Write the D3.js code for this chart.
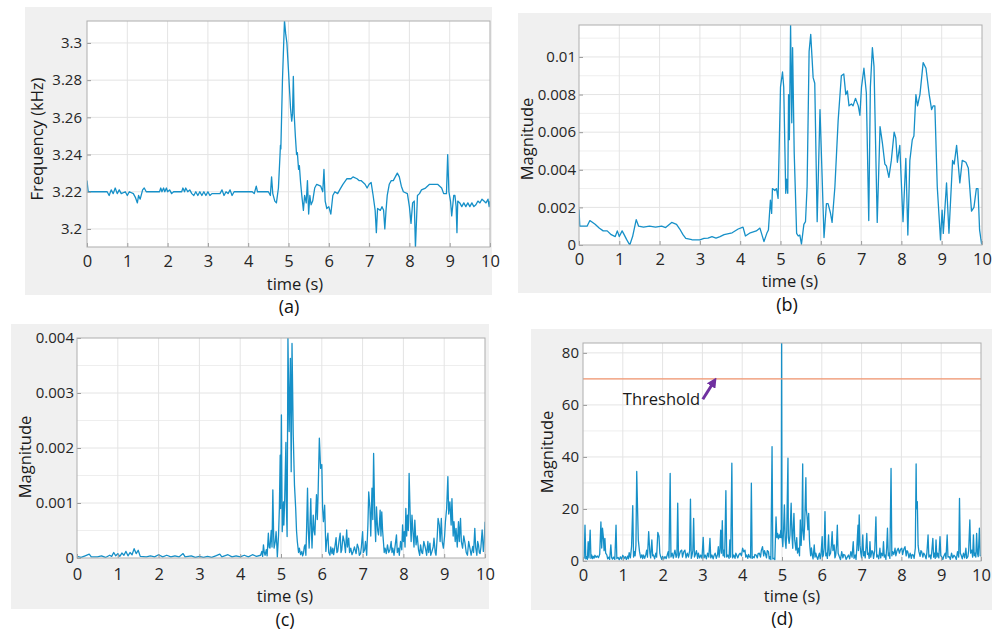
<!DOCTYPE html>
<html>
<head>
<meta charset="utf-8">
<script src="https://cdn.jsdelivr.net/npm/d3@7"></script>
<style>
  body { margin: 0; background: #fff; }
  svg { display: block; font-family: "Open Sans", sans-serif; }
</style>
</head>
<body>
<script>
// tick values
const timeTicks = [0, 1, 2, 3, 4, 5, 6, 7, 8, 9, 10];
const freqTicks = [3.2, 3.22, 3.24, 3.26, 3.28, 3.3];
const magTicksB = [0, 0.002, 0.004, 0.006, 0.008, 0.01];
const magMinorB = [0.001, 0.003, 0.005, 0.007, 0.009, 0.011];
const magTicksC = [0, 0.001, 0.002, 0.003, 0.004];
const magMinorC = [0.0005, 0.0015, 0.0025, 0.0035];
const magTicksD = [0, 20, 40, 60, 80];
const magMinorD = [10, 30, 50, 70];
const threshold = 70;

// (a) frequency, kHz  [time s, value]
const freqA = [
  [0,3.226],[0.03,3.22],[0.5,3.22],[0.55,3.218],[0.6,3.221],[0.65,3.219],[0.7,3.222],[0.75,3.219],
  [0.8,3.221],[0.85,3.219],[0.95,3.22],[1.0,3.218],[1.05,3.22],[1.15,3.219],[1.2,3.217],[1.25,3.214],
  [1.28,3.218],[1.32,3.216],[1.38,3.221],[1.42,3.222],[1.47,3.22],[1.8,3.22],[1.83,3.222],[1.86,3.22],
  [1.9,3.222],[1.93,3.22],[1.97,3.222],[2.0,3.22],[2.05,3.221],[2.1,3.219],[2.15,3.22],[2.35,3.22],
  [2.38,3.222],[2.42,3.22],[2.45,3.222],[2.5,3.22],[2.55,3.221],[2.6,3.219],[2.65,3.218],[2.7,3.22],
  [2.75,3.218],[2.8,3.22],[2.85,3.218],[2.9,3.22],[2.95,3.218],[3.0,3.22],[3.05,3.218],[3.1,3.219],
  [3.3,3.219],[3.35,3.221],[3.4,3.218],[3.45,3.22],[3.5,3.219],[3.55,3.221],[3.6,3.218],[3.65,3.22],
  [4.1,3.22],[4.15,3.219],[4.2,3.223],[4.23,3.22],[4.5,3.22],[4.55,3.218],[4.58,3.228],[4.61,3.219],
  [4.66,3.215],[4.7,3.214],[4.75,3.222],[4.79,3.24],[4.8,3.245],[4.81,3.243],[4.85,3.28],[4.9,3.312],
  [4.93,3.305],[4.96,3.3],[5.0,3.285],[5.05,3.265],[5.08,3.258],[5.1,3.262],[5.12,3.282],[5.14,3.262],
  [5.17,3.25],[5.2,3.24],[5.22,3.241],[5.25,3.232],[5.27,3.234],[5.3,3.225],[5.33,3.218],[5.37,3.21],
  [5.4,3.218],[5.44,3.214],[5.47,3.226],[5.5,3.208],[5.53,3.218],[5.56,3.213],[5.6,3.215],[5.65,3.222],
  [5.7,3.224],[5.8,3.223],[5.85,3.22],[5.88,3.232],[5.91,3.215],[5.95,3.211],[6.0,3.212],[6.05,3.208],
  [6.1,3.218],[6.15,3.22],[6.22,3.219],[6.27,3.221],[6.35,3.224],[6.45,3.227],[6.55,3.227],[6.6,3.228],
  [6.7,3.227],[6.75,3.226],[6.8,3.226],[6.9,3.224],[6.95,3.222],[7.0,3.224],[7.05,3.225],[7.1,3.218],
  [7.15,3.21],[7.18,3.198],[7.21,3.211],[7.28,3.21],[7.32,3.212],[7.36,3.21],[7.39,3.2],[7.42,3.21],
  [7.45,3.218],[7.5,3.224],[7.55,3.226],[7.6,3.226],[7.65,3.228],[7.7,3.23],[7.75,3.228],[7.8,3.223],
  [7.85,3.22],[7.95,3.219],[8.0,3.212],[8.04,3.203],[8.08,3.214],[8.12,3.215],[8.15,3.19],[8.2,3.218],
  [8.25,3.219],[8.3,3.221],[8.4,3.222],[8.5,3.224],[8.6,3.224],[8.7,3.224],[8.8,3.222],[8.85,3.219],
  [8.92,3.219],[8.95,3.24],[8.98,3.22],[9.02,3.215],[9.05,3.207],[9.1,3.218],[9.13,3.218],[9.16,3.212],
  [9.18,3.198],[9.2,3.215],[9.25,3.214],[9.3,3.212],[9.35,3.214],[9.4,3.212],[9.45,3.214],[9.5,3.212],
  [9.55,3.214],[9.6,3.212],[9.65,3.213],[9.7,3.215],[9.75,3.214],[9.8,3.216],[9.85,3.215],[9.9,3.214],
  [9.95,3.216],[9.98,3.212],[10,3.215]
];

// (b) magnitude
const magB = [
  [0,0.0019],[0.02,0.001],[0.2,0.001],[0.27,0.0013],[0.4,0.0011],[0.5,0.0009],[0.6,0.00075],[0.7,0.00075],
  [0.8,0.00055],[0.9,0.00045],[0.95,0.00075],[1.0,0.00045],[1.07,0.00075],[1.12,0.00055],[1.18,0.0003],
  [1.26,0],[1.33,0.00045],[1.42,0.00135],[1.48,0.001],[1.6,0.00095],[1.75,0.001],[1.9,0.00095],[2.05,0.001],
  [2.15,0.00093],[2.3,0.0012],[2.42,0.0011],[2.5,0.00085],[2.58,0.00055],[2.65,0.00035],[2.8,0.00028],
  [3.0,0.00027],[3.1,0.00035],[3.2,0.00037],[3.3,0.00045],[3.4,0.00037],[3.5,0.00045],[3.6,0.00055],
  [3.8,0.00065],[3.95,0.00085],[4.07,0.00095],[4.13,0.00048],[4.25,0.00065],[4.4,0.00075],[4.49,0.0009],
  [4.59,0.00018],[4.66,0.00062],[4.7,0.0008],[4.75,0.00239],[4.78,0.00168],[4.8,0.003],[4.86,0.0029],
  [4.9,0.003],[4.94,0.00248],[5.0,0.0084],[5.05,0.0092],[5.08,0.0084],[5.13,0.00275],[5.15,0.0035],
  [5.18,0.00275],[5.2,0.008],[5.22,0.0056],[5.25,0.0117],[5.28,0.0065],[5.3,0.0105],[5.34,0.0049],
  [5.4,0.00062],[5.44,0.00048],[5.48,0.00053],[5.52,0.00005],[5.58,0.0011],[5.62,0.00124],[5.66,0.0031],
  [5.71,0.0103],[5.75,0.0112],[5.81,0.0089],[5.85,0.0086],[5.91,0.00124],[5.98,0.0072],[6.02,0.0045],
  [6.08,0.0004],[6.14,0.0022],[6.18,0.0022],[6.24,0.0017],[6.28,0.0012],[6.35,0.0031],[6.43,0.0066],
  [6.51,0.009],[6.57,0.0091],[6.62,0.008],[6.66,0.0082],[6.7,0.0074],[6.76,0.0075],[6.8,0.0074],
  [6.86,0.0078],[6.93,0.0074],[6.97,0.0069],[7.01,0.0084],[7.07,0.0094],[7.13,0.0081],[7.19,0.0013],
  [7.23,0.0084],[7.28,0.0105],[7.32,0.0095],[7.4,0.0012],[7.47,0.0063],[7.53,0.0054],[7.59,0.0043],
  [7.63,0.0042],[7.69,0.0036],[7.75,0.0045],[7.82,0.006],[7.86,0.0057],[7.9,0.0044],[7.96,0.0053],
  [8.04,0.00124],[8.11,0.0046],[8.16,0.00053],[8.21,0.0045],[8.27,0.0056],[8.31,0.0058],[8.36,0.008],
  [8.4,0.0074],[8.46,0.008],[8.54,0.0097],[8.61,0.0094],[8.69,0.008],[8.75,0.0072],[8.79,0.0074],
  [8.83,0.0074],[8.89,0.0031],[8.97,0.00027],[9.01,0.00186],[9.04,0.00062],[9.12,0.0033],[9.18,0.00062],
  [9.27,0.0045],[9.31,0.0043],[9.37,0.0053],[9.45,0.0033],[9.51,0.0045],[9.6,0.0044],[9.66,0.0041],
  [9.74,0.0018],[9.8,0.002],[9.86,0.003],[9.9,0.003],[9.94,0.0008],[9.99,0.00005],[10,0.0003]
];

// (c) magnitude
const magC = [
  [0,0.00003],[0.1,0.00001],[0.2,0.00004],[0.3,0.00007],[0.35,0.00002],[0.5,0.00002],[0.6,0.00004],
  [0.7,0.00001],[0.8,0.00005],[0.85,0.00003],[0.9,0.0001],[0.95,0.00004],[1.0,0.00008],[1.05,0.00003],
  [1.1,0.00009],[1.15,0.00005],[1.2,0.00012],[1.25,0.00004],[1.3,0.0001],[1.35,0.00006],[1.4,0.00017],
  [1.45,0.00008],[1.5,0.00014],[1.55,0.00003],[1.7,0.00002],[1.8,0.00004],[1.9,0.00002],[2.0,0.00006],
  [2.1,0.00002],[2.2,0.00005],[2.3,0.00002],[2.4,0.00004],[2.5,0.00002],[2.6,0.00008],[2.65,0.00002],
  [2.8,0.00004],[2.9,0.00001],[3.0,0.00003],[3.1,0.00001],[3.2,0.00003],[3.3,0.00001],[3.4,0.00004],
  [3.5,0.00007],[3.55,0.00002],[3.7,0.00006],[3.8,0.00002],[3.9,0.00004],[4.0,0.00002],[4.1,0.00005],
  [4.2,0.00002],[4.3,0.00006],[4.4,0.00003],[4.5,0.00005],[4.53,0.00012],[4.55,0.00003],[4.57,0.00024],
  [4.59,0.0001],[4.61,0.00005],[4.64,0.00015],[4.66,0.00004],[4.69,0.00045],[4.71,0.0002],[4.73,0.00018],
  [4.76,0.0005],[4.78,0.0002],[4.8,0.00124],[4.82,0.0004],[4.83,0.00018],[4.86,0.0003],[4.88,0.00048],
  [4.9,0.0002],[4.91,0.00002],[4.94,0.00042],[4.96,0.0009],[4.98,0.00187],[4.99,0.0009],[5.01,0.0026],
  [5.03,0.00048],[5.05,0.0008],[5.06,0.00102],[5.07,0.0006],[5.09,0.00105],[5.12,0.0021],[5.13,0.001],
  [5.15,0.00039],[5.17,0.004],[5.2,0.0023],[5.23,0.00363],[5.25,0.00157],[5.27,0.0039],[5.3,0.00224],
  [5.33,0.00133],[5.36,0.0009],[5.38,0.0005],[5.4,0.0003],[5.43,0.0001],[5.45,0.00018],[5.48,0.00006],
  [5.51,0.00012],[5.53,0.00004],[5.55,0.00008],[5.57,0.0002],[5.59,0.00024],[5.61,0.00005],[5.63,0.0006],
  [5.65,0.00127],[5.67,0.0005],[5.69,0.00018],[5.71,0.0006],[5.73,0.00108],[5.75,0.0004],[5.76,0.00018],
  [5.79,0.00078],[5.81,0.0005],[5.83,0.00042],[5.85,0.0008],[5.87,0.00115],[5.89,0.0007],[5.91,0.00118],
  [5.94,0.00218],[5.97,0.00163],[6.0,0.0017],[6.02,0.0009],[6.04,0.00066],[6.07,0.00096],[6.1,0.00012],
  [6.12,0.0003],[6.15,0.00045],[6.17,0.0001],[6.2,0.00005],[6.22,0.0002],[6.25,0.00008],[6.27,0.00018],
  [6.29,0.00006],[6.32,0.0002],[6.35,0.00037],[6.37,0.0001],[6.39,0.00012],[6.42,0.0003],[6.45,0.00045],
  [6.47,0.0001],[6.49,0.00015],[6.52,0.0004],[6.55,0.0003],[6.58,0.0001],[6.61,0.00051],[6.63,0.0002],
  [6.66,0.00036],[6.68,0.0001],[6.71,0.00018],[6.74,0.00006],[6.77,0.00012],[6.8,0.0002],[6.84,0.00008],
  [6.87,0.00025],[6.9,0.00018],[6.92,0.00005],[6.95,0.00008],[6.97,0.0002],[7.0,0.00048],[7.02,0.0001],
  [7.05,0.00015],[7.07,0.0003],[7.1,0.00005],[7.13,0.0006],[7.15,0.0012],[7.18,0.0009],[7.2,0.0004],
  [7.23,0.00127],[7.25,0.0007],[7.27,0.0019],[7.3,0.00066],[7.32,0.0003],[7.34,0.00093],[7.37,0.0005],
  [7.39,0.00042],[7.41,0.0006],[7.43,0.00087],[7.45,0.0004],[7.47,0.00084],[7.49,0.0005],[7.51,0.0003],
  [7.53,0.0001],[7.55,0.00018],[7.58,0.00008],[7.61,0.00024],[7.64,0.0001],[7.67,0.00015],[7.7,0.0003],
  [7.72,0.0001],[7.74,0.00018],[7.77,0.00005],[7.8,0.00024],[7.83,0.00042],[7.85,0.0001],[7.88,0.00018],
  [7.9,0.00005],[7.93,0.0003],[7.96,0.00015],[7.98,0.0006],[8.0,0.0003],[8.02,0.00048],[8.04,0.0002],
  [8.06,0.0009],[8.08,0.0004],[8.1,0.00078],[8.12,0.0005],[8.14,0.00154],[8.17,0.00066],[8.19,0.0003],
  [8.21,0.00078],[8.24,0.00042],[8.26,0.0002],[8.28,0.00069],[8.31,0.00024],[8.34,0.0004],[8.37,0.00015],
  [8.4,0.00005],[8.42,0.00024],[8.45,0.0001],[8.47,0.00008],[8.5,0.0003],[8.54,0.00018],[8.57,0.00005],
  [8.6,0.0003],[8.62,0.0001],[8.65,0.00027],[8.67,0.00005],[8.7,0.00012],[8.73,0.0002],[8.75,0.00036],
  [8.78,0.0001],[8.8,0.00005],[8.83,0.0004],[8.85,0.00072],[8.88,0.0006],[8.9,0.0003],[8.93,0.00072],
  [8.95,0.0003],[8.98,0.00018],[9.01,0.0004],[9.03,0.00066],[9.06,0.0009],[9.09,0.00148],[9.11,0.0008],
  [9.14,0.00102],[9.17,0.0006],[9.19,0.00108],[9.22,0.0004],[9.24,0.00066],[9.27,0.0003],[9.29,0.00054],
  [9.32,0.0002],[9.35,0.00066],[9.37,0.0003],[9.4,0.00072],[9.42,0.0003],[9.45,0.00018],[9.48,0.0004],
  [9.51,0.00027],[9.54,0.0001],[9.57,0.00005],[9.6,0.0003],[9.63,0.00018],[9.66,0.00005],[9.7,0.00021],
  [9.72,0.0001],[9.75,0.00054],[9.77,0.0002],[9.8,0.00005],[9.82,0.0003],[9.84,0.00024],[9.86,0.0001],
  [9.88,0.00008],[9.9,0.0002],[9.93,0.00051],[9.96,0.00012],[9.98,0.0003],[10,0.00066]
];

// (d) magnitude
const magD = [
  [0,0.5],[0.03,1.2],[0.05,13.8],[0.07,0.8],[0.09,1.7],[0.11,0.6],[0.13,7.4],[0.15,1.2],[0.18,11.9],
  [0.2,1],[0.22,2.3],[0.24,0.9],[0.26,1.8],[0.28,1.1],[0.3,2.2],[0.33,1.4],[0.36,1.9],[0.39,1.3],
  [0.42,2.6],[0.45,15],[0.47,5],[0.49,12.6],[0.51,9.4],[0.53,4],[0.55,8.7],[0.57,3],[0.6,2.3],[0.62,0.8],
  [0.65,1.5],[0.67,0.6],[0.7,6.2],[0.72,1.3],[0.74,0.7],[0.77,1.5],[0.8,0.6],[0.83,13.8],[0.85,0.9],
  [0.88,1.4],[0.91,0.5],[0.94,1.6],[0.97,0.7],[1.0,2.2],[1.03,0.9],[1.06,1.7],[1.09,0.6],[1.12,1.9],
  [1.14,0.8],[1.16,3.2],[1.19,1.2],[1.22,5.5],[1.25,21.3],[1.27,1.5],[1.29,3.6],[1.31,2],[1.33,6],
  [1.35,34.4],[1.37,20.6],[1.39,8],[1.42,3.6],[1.45,1.2],[1.48,2.4],[1.5,0.9],[1.52,2.3],[1.55,1],
  [1.58,2.6],[1.6,4.2],[1.62,1.5],[1.65,11.3],[1.68,3],[1.7,1.2],[1.73,8.1],[1.75,2],[1.77,2.3],[1.8,0.8],
  [1.83,3],[1.85,1.5],[1.88,11],[1.91,9.4],[1.93,3],[1.95,1.7],[1.98,0.6],[2.0,1.8],[2.03,0.8],[2.06,1.7],
  [2.09,0.9],[2.12,2.5],[2.14,3.6],[2.16,1.2],[2.19,33.7],[2.21,1.5],[2.24,3],[2.27,1.1],[2.29,2.8],
  [2.31,4.2],[2.34,1.4],[2.36,2.2],[2.38,22.2],[2.4,1.2],[2.42,2.3],[2.45,3.8],[2.48,4.2],[2.5,1.5],
  [2.53,3.5],[2.56,4.2],[2.59,1.2],[2.62,3],[2.65,1.5],[2.68,4],[2.7,23.8],[2.72,1],[2.74,2.3],[2.76,4],
  [2.78,16.4],[2.8,1.5],[2.82,2.3],[2.85,4],[2.88,1],[2.9,3],[2.93,1.2],[2.96,2.3],[2.99,1],[3.02,9.1],
  [3.04,1.2],[3.07,2.3],[3.1,0.8],[3.13,3],[3.16,1.5],[3.19,8.7],[3.21,1.2],[3.24,2.3],[3.27,0.8],
  [3.29,2],[3.32,3],[3.35,1],[3.38,2.5],[3.4,5.5],[3.42,1.5],[3.44,4],[3.46,11.9],[3.48,3],[3.5,15.5],
  [3.52,2],[3.54,4.2],[3.56,1.5],[3.59,27],[3.61,1.5],[3.64,2.3],[3.67,1],[3.69,8.1],[3.71,1.5],
  [3.74,37.6],[3.76,1.2],[3.79,2.3],[3.82,1],[3.84,3],[3.86,2.3],[3.89,1.2],[3.92,2.5],[3.95,3],[3.98,2],
  [4.01,4.9],[4.04,3.5],[4.07,4.2],[4.09,1.5],[4.11,2.3],[4.14,1],[4.16,2.5],[4.18,1.7],[4.21,1.2],
  [4.23,29.9],[4.25,1],[4.27,1.7],[4.3,1.2],[4.32,2.5],[4.35,2.3],[4.38,1.2],[4.4,2.8],[4.43,3],[4.46,1.5],
  [4.48,4],[4.51,5.5],[4.54,2],[4.56,4],[4.58,3],[4.61,1.2],[4.63,4],[4.66,3.6],[4.68,0.8],[4.7,1.7],
  [4.72,0.5],[4.75,44],[4.77,0.8],[4.8,1],[4.82,0.5],[4.85,17],[4.87,9],[4.89,10.6],[4.91,8.5],[4.93,10],
  [4.95,9],[4.97,11.9],[4.98,9],[4.99,84],[5.0,10],[5.02,5.5],[5.04,12],[5.06,21.6],[5.08,8],[5.1,4.9],
  [5.12,12],[5.15,39.5],[5.16,9],[5.18,6.8],[5.2,10],[5.23,22.2],[5.25,10],[5.27,4.9],[5.28,12],[5.3,18.3],
  [5.32,8],[5.35,4.2],[5.37,9],[5.39,3],[5.42,4.9],[5.44,2],[5.46,15.8],[5.48,6],[5.5,12],[5.52,37.3],
  [5.53,12],[5.55,8.1],[5.57,14],[5.6,32],[5.61,20],[5.63,17],[5.65,12],[5.67,18.3],[5.69,8],[5.7,5.5],
  [5.72,2],[5.74,5],[5.76,2.3],[5.78,0.8],[5.81,6.2],[5.83,1.5],[5.85,3],[5.87,1.7],[5.9,0.6],[5.92,2],
  [5.94,3],[5.96,0.8],[5.98,2.5],[6.01,9.4],[6.02,1.5],[6.04,2.3],[6.06,5],[6.08,19],[6.1,2],[6.12,3],
  [6.14,1],[6.17,10],[6.19,2],[6.22,3],[6.24,6],[6.26,11.3],[6.28,4],[6.31,6.2],[6.33,1.2],[6.35,2.3],
  [6.37,6],[6.39,13.8],[6.41,3],[6.44,1.7],[6.47,0.5],[6.5,3.6],[6.53,1.2],[6.55,2.5],[6.58,2.3],[6.61,0.6],
  [6.64,1.5],[6.67,2.3],[6.7,0.8],[6.73,3.6],[6.76,1.5],[6.79,7.4],[6.81,1],[6.84,2.3],[6.86,0.6],[6.88,5],
  [6.91,13.8],[6.92,4],[6.94,17.7],[6.96,6],[6.98,3],[7.0,1.2],[7.03,10],[7.05,2],[7.07,3.6],[7.09,1.2],
  [7.11,5],[7.13,10.6],[7.15,2.5],[7.17,3],[7.19,1],[7.21,7.4],[7.23,1.5],[7.26,4],[7.28,3.6],[7.3,1],
  [7.33,4],[7.36,17],[7.38,1.5],[7.4,2.3],[7.43,0.8],[7.46,4.9],[7.48,1.2],[7.5,3],[7.53,2],[7.55,7.4],
  [7.57,1.5],[7.59,2.3],[7.61,0.6],[7.63,5],[7.65,12.6],[7.67,2],[7.69,3],[7.71,1],[7.74,35.6],[7.76,2],
  [7.78,3.6],[7.81,2.5],[7.84,4.9],[7.86,2],[7.89,4],[7.92,4.9],[7.95,3],[7.98,4.5],[8.01,4.9],[8.03,2.5],
  [8.06,4.5],[8.09,5.5],[8.12,2],[8.14,4],[8.16,3.6],[8.19,1.2],[8.22,3],[8.25,1],[8.27,2.5],[8.3,2.3],
  [8.32,1],[8.35,5],[8.37,37.3],[8.38,20],[8.4,22.8],[8.42,6],[8.44,3.6],[8.47,1.8],[8.49,4],[8.51,3.6],
  [8.54,1.5],[8.56,3],[8.59,2.3],[8.62,0.8],[8.64,3],[8.67,10],[8.69,1.5],[8.72,2.3],[8.74,0.8],[8.76,3],
  [8.79,8.7],[8.81,1.5],[8.83,3],[8.85,1],[8.87,8.1],[8.89,1.5],[8.91,3],[8.94,1.2],[8.97,9.4],[8.99,2],
  [9.01,1.7],[9.04,0.6],[9.07,2],[9.1,3],[9.12,1],[9.15,10],[9.17,1.5],[9.2,1.7],[9.23,0.6],[9.26,3],
  [9.29,1.2],[9.32,2.2],[9.35,1.7],[9.38,0.6],[9.41,3.6],[9.44,1.5],[9.46,24.1],[9.48,3],[9.5,2.3],
  [9.53,0.8],[9.56,3],[9.59,1.2],[9.62,4.9],[9.64,1],[9.67,1.7],[9.69,4],[9.72,15.8],[9.74,3],[9.77,4.2],
  [9.79,1.5],[9.81,10],[9.83,2],[9.85,3],[9.87,1.5],[9.89,10.6],[9.91,3],[9.93,1.7],[9.94,5],[9.96,12.6],
  [9.98,2],[10,2.3]
];

// layout of the four sub-figures
const panels = [
  {caption: "(a)", data: freqA, yDomain: [3.1903, 3.3118], yTicks: freqTicks, yMinor: [],
   yLabel: "Frequency (kHz)", bg: [25, 7, 492, 295], box: [87, 21, 490, 247],
   yPad: 5, xPad: 8, yLabelAt: [43, 139], xLabelAt: [295, 290], captionAt: [289, 313]},
  {caption: "(b)", data: magB, yDomain: [0, 0.0117], yTicks: magTicksB, yMinor: magMinorB,
   yLabel: "Magnitude", bg: [518, 13, 991, 293], box: [579, 25, 982, 245],
   yPad: 3, xPad: 8, yLabelAt: [533, 139], xLabelAt: [790, 287], captionAt: [787, 311]},
  {caption: "(c)", data: magC, yDomain: [0, 0.004], yTicks: magTicksC, yMinor: magMinorC,
   yLabel: "Magnitude", bg: [11, 324, 489, 609], box: [77, 338, 485, 558],
   yPad: 3, xPad: 10, yLabelAt: [31, 457], xLabelAt: [285, 602], captionAt: [285, 626]},
  {caption: "(d)", data: magD, yDomain: [0, 83.8], yTicks: magTicksD, yMinor: magMinorD,
   yLabel: "Magnitude", bg: [531, 329, 992, 610], box: [583, 343, 981, 561],
   yPad: 4, xPad: 8, yLabelAt: [553, 452], xLabelAt: [792, 602], captionAt: [782, 625],
   threshold: threshold}
];

const svg = d3.select("body")
  .append("svg")
  .attr("width", 1000)
  .attr("height", 632);

const defs = svg.append("defs");
defs.append("marker")
  .attr("id", "arrowHead")
  .attr("viewBox", "0 0 10 10")
  .attr("refX", 6)
  .attr("refY", 5)
  .attr("markerWidth", 10)
  .attr("markerHeight", 10)
  .attr("markerUnits", "userSpaceOnUse")
  .attr("orient", "auto")
  .append("path")
  .attr("d", "M0,0 L10,5 L0,10 Z")
  .attr("fill", "#7030a0");

panels.forEach((p, i) => {
  const [left, top, right, bottom] = p.box;
  const g = svg.append("g");

  g.append("rect")
    .attr("x", p.bg[0]).attr("y", p.bg[1])
    .attr("width", p.bg[2] - p.bg[0]).attr("height", p.bg[3] - p.bg[1])
    .attr("fill", "#f0f0f0");

  const x = d3.scaleLinear().domain([0, 10]).range([left, right]);
  const y = d3.scaleLinear().domain(p.yDomain).range([bottom, top]);

  g.append("rect")
    .attr("x", left).attr("y", top)
    .attr("width", right - left).attr("height", bottom - top)
    .attr("fill", "#fff");

  // grid
  g.selectAll(".minor")
    .data(p.yMinor.filter(v => y(v) > top))
    .enter().append("line")
    .attr("x1", left).attr("x2", right)
    .attr("y1", d => y(d)).attr("y2", d => y(d))
    .attr("stroke", "#eeeeee");

  g.selectAll(".gx")
    .data(timeTicks.slice(1, -1))
    .enter().append("line")
    .attr("x1", d => x(d)).attr("x2", d => x(d))
    .attr("y1", top).attr("y2", bottom)
    .attr("stroke", "#e4e4e4");

  g.selectAll(".gy")
    .data(p.yTicks.filter(v => y(v) < bottom - 1 && y(v) > top + 1))
    .enter().append("line")
    .attr("x1", left).attr("x2", right)
    .attr("y1", d => y(d)).attr("y2", d => y(d))
    .attr("stroke", "#e4e4e4");

  g.append("clipPath")
    .attr("id", "clip" + i)
    .append("rect")
    .attr("x", left).attr("y", top)
    .attr("width", right - left).attr("height", bottom - top);

  const line = d3.line()
    .x(d => x(d[0]))
    .y(d => y(d[1]));

  g.append("path")
    .datum(p.data)
    .attr("clip-path", "url(#clip" + i + ")")
    .attr("d", line)
    .attr("fill", "none")
    .attr("stroke", "#1690c8")
    .attr("stroke-width", 1.3)
    .attr("stroke-linejoin", "round");

  if (p.threshold !== undefined) {
    g.append("line")
      .attr("x1", left).attr("x2", right)
      .attr("y1", y(p.threshold)).attr("y2", y(p.threshold))
      .attr("stroke", "#f2946e")
      .attr("stroke-width", 1.4);

    g.append("line")
      .attr("x1", x(3.01)).attr("y1", y(62.2))
      .attr("x2", x(3.3)).attr("y2", y(69.2))
      .attr("stroke", "#7030a0")
      .attr("stroke-width", 3)
      .attr("marker-end", "url(#arrowHead)");

    g.append("text")
      .attr("x", x(1.0))
      .attr("y", y(60))
      .style("font-size", "16.5px")
      .attr("fill", "#1a1a1a")
      .text("Threshold");
  }

  // axes
  const xAxis = d3.axisBottom(x)
    .tickValues(timeTicks)
    .tickSizeInner(-4)
    .tickSizeOuter(0)
    .tickPadding(p.xPad)
    .tickFormat(d3.format("d"));

  const yAxis = d3.axisLeft(y)
    .tickValues(p.yTicks)
    .tickSizeInner(-4)
    .tickSizeOuter(0)
    .tickPadding(p.yPad)
    .tickFormat(d => String(d));

  const gx = g.append("g")
    .attr("transform", "translate(0," + bottom + ")")
    .call(xAxis);
  gx.attr("font-family", null).attr("font-size", null)
    .style("font-size", "16.5px");

  const gy = g.append("g")
    .attr("transform", "translate(" + left + ",0)")
    .call(yAxis);
  gy.attr("font-family", null).attr("font-size", null)
    .style("font-size", "15px");

  [gx, gy].forEach(ax => {
    ax.select(".domain").remove();
    ax.selectAll(".tick line").attr("stroke", "#9a9a9a");
    ax.selectAll(".tick text").attr("fill", "#262626");
  });

  g.append("rect")
    .attr("x", left).attr("y", top)
    .attr("width", right - left).attr("height", bottom - top)
    .attr("fill", "none")
    .attr("stroke", "#adadad");

  // labels
  g.append("text")
    .attr("x", p.xLabelAt[0]).attr("y", p.xLabelAt[1])
    .style("text-anchor", "middle")
    .style("font-size", "16.5px")
    .attr("fill", "#1a1a1a")
    .text("time (s)");

  g.append("text")
    .attr("transform", "translate(" + p.yLabelAt[0] + "," + p.yLabelAt[1] + ") rotate(-90)")
    .style("text-anchor", "middle")
    .style("font-size", "16.5px")
    .attr("fill", "#1a1a1a")
    .text(p.yLabel);

  svg.append("text")
    .attr("x", p.captionAt[0]).attr("y", p.captionAt[1])
    .style("text-anchor", "middle")
    .style("font-size", "18px")
    .attr("fill", "#111")
    .text(p.caption);
});
</script>
</body>
</html>
